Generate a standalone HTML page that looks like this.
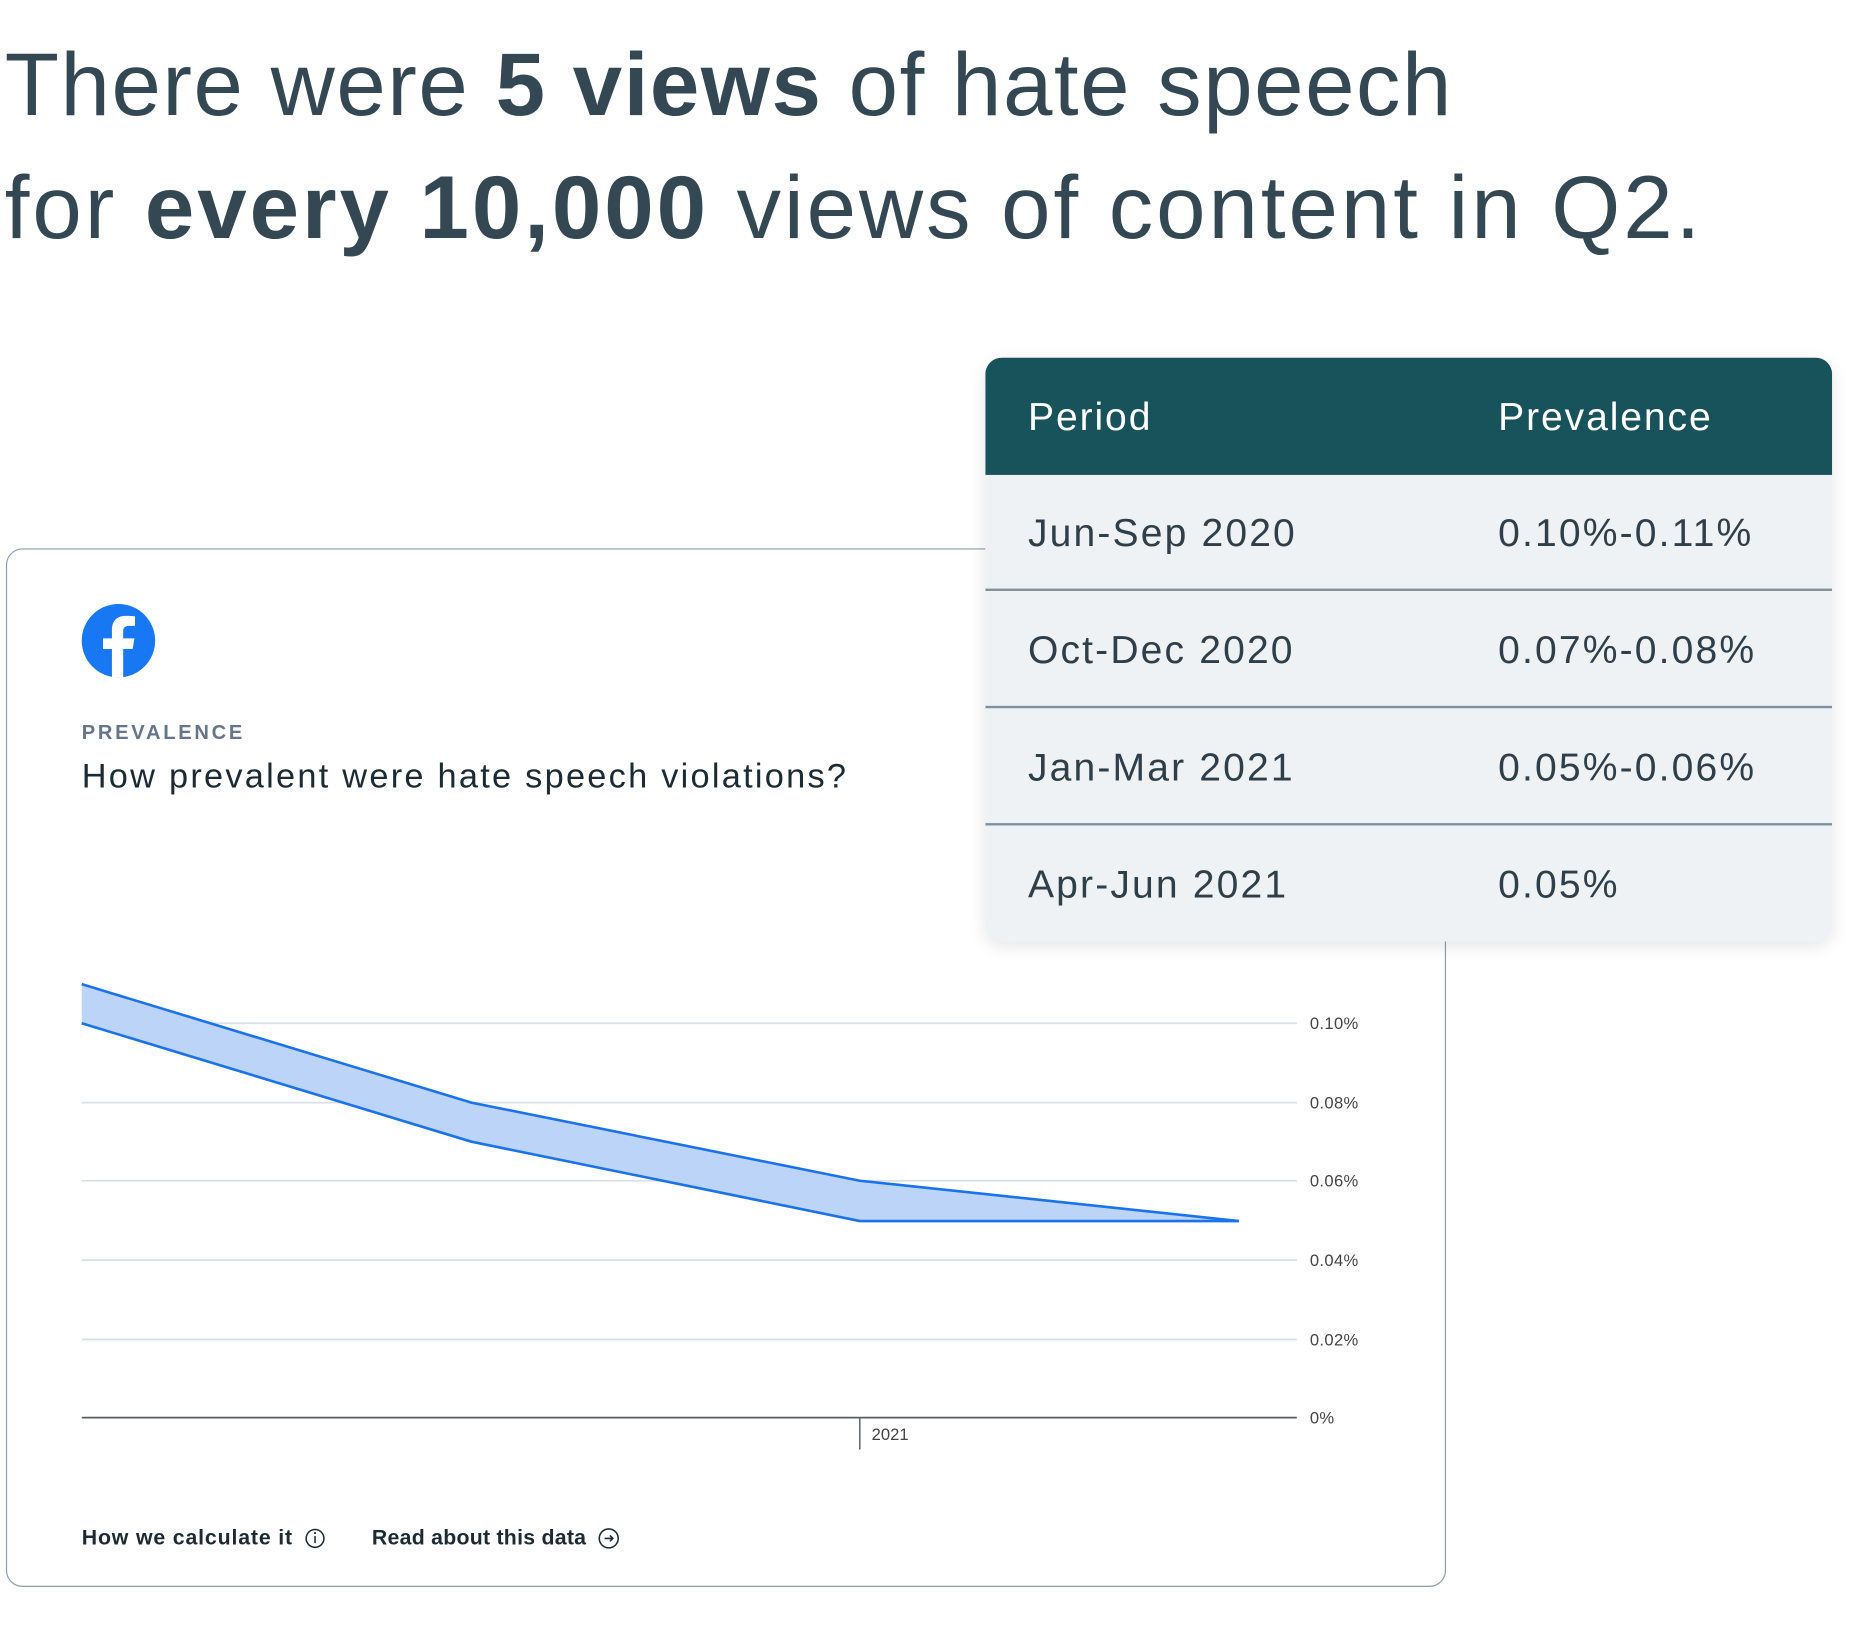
<!DOCTYPE html>
<html><head><meta charset="utf-8"><style>
html,body{margin:0;padding:0;background:#fff;overflow:hidden}
body{width:1857px;height:1637px;position:relative}
#s{position:absolute;left:0;top:0;width:1568px;height:1382px;transform:scale(1.18431);transform-origin:0 0;font-family:"Liberation Sans",sans-serif}
.h{position:absolute;left:4px;font-size:75px;color:#344854;white-space:nowrap}
.h b{font-weight:700}
.card{position:absolute;left:5px;top:463px;width:1214px;height:875px;border:1px solid #8d9cab;border-radius:14px;background:#fff}
.tbl{position:absolute;left:832px;top:302px;width:715px;height:493px;border-radius:14px;overflow:hidden;background:#eff2f5;box-shadow:0 4px 14px rgba(0,0,0,0.10)}
.hd{position:absolute;left:0;top:0;width:715px;height:99px;background:#18525a}
.t{position:absolute;font-size:33px;color:#2f3f4a;white-space:nowrap;line-height:40px;letter-spacing:1.8px}
.w{color:#fff;letter-spacing:1.6px}
.sep{position:absolute;left:0;width:715px;height:2px;background:#7f909c}
.lab{position:absolute;left:1106px;font-size:14px;color:#444;line-height:16px;letter-spacing:0.3px}
</style></head><body><div id="s">
<div class="h" style="top:28px;letter-spacing:1.3px">There were <b>5 views</b> of hate speech</div>
<div class="h" style="top:132px;letter-spacing:2.5px">for <b>every 10,000</b> views of content in Q2.</div>

<div class="card"></div>
<svg style="position:absolute;left:0;top:0" width="1568" height="1382">
<circle cx="100" cy="541" r="31" fill="#1877f2"/>
<path d="M104 572 V548 H112 L113.5 539 H104 V533 C104 530 105.5 528.5 109 528.5 H114 V520.5 C111 520 108 520 106 520 C98.5 520 94.5 524.5 94.5 532 V539 H87 V548 H94.5 V572 Z" fill="#fff"/>
<g stroke="#dcdfe3" stroke-width="1.5">
<line x1="69" y1="864" x2="1095" y2="864"/><line x1="69" y1="931" x2="1095" y2="931"/>
<line x1="69" y1="997" x2="1095" y2="997"/><line x1="69" y1="1064" x2="1095" y2="1064"/>
<line x1="69" y1="1131" x2="1095" y2="1131"/></g>
<polygon points="69,831 398,931 726,997 1046,1031 726,1031 398,964 69,864" fill="#bcd4f8"/>
<polyline points="69,831 398,931 726,997 1046,1031" fill="none" stroke="#1a73e8" stroke-width="2.2"/>
<polyline points="69,864 398,964 726,1031 1046,1031" fill="none" stroke="#1a73e8" stroke-width="2.2"/>
<line x1="69" y1="1197" x2="1095" y2="1197" stroke="#555d63" stroke-width="1.5"/>
<line x1="726" y1="1197" x2="726" y2="1224" stroke="#555d63" stroke-width="1.2"/>
<circle cx="266" cy="1299" r="7.5" fill="none" stroke="#1c2b33" stroke-width="1.3"/>
<line x1="266" y1="1297" x2="266" y2="1303" stroke="#1c2b33" stroke-width="1.3"/><circle cx="266" cy="1294.5" r="0.9" fill="#1c2b33"/>
<circle cx="514" cy="1299" r="8" fill="none" stroke="#1c2b33" stroke-width="1.3"/>
<path d="M510.5 1299 H517.5 M515 1296.5 L517.5 1299 L515 1301.5" fill="none" stroke="#1c2b33" stroke-width="1.3"/>
</svg>
<div style="position:absolute;left:69px;top:609px;font-size:17px;font-weight:700;letter-spacing:2.3px;color:#65758a">PREVALENCE</div>
<div style="position:absolute;left:69px;top:640px;font-size:29px;color:#1c2b33;letter-spacing:1.9px">How prevalent were hate speech violations?</div>
<div class="lab" style="top:856px">0.10%</div><div class="lab" style="top:923px">0.08%</div>
<div class="lab" style="top:989px">0.06%</div><div class="lab" style="top:1056px">0.04%</div>
<div class="lab" style="top:1123px">0.02%</div><div class="lab" style="top:1189px">0%</div>
<div style="position:absolute;left:736px;top:1203px;font-size:14px;color:#444">2021</div>
<div style="position:absolute;left:69px;top:1288px;font-size:18px;font-weight:700;color:#1c2b33;letter-spacing:0.7px">How we calculate it</div>
<div style="position:absolute;left:314px;top:1288px;font-size:18px;font-weight:700;color:#1c2b33;letter-spacing:0.2px">Read about this data</div>

<div class="tbl">
<div class="hd"></div>
<div class="t w" style="left:36px;top:30px">Period</div><div class="t w" style="left:433px;top:30px">Prevalence</div>
<div class="t" style="left:36px;top:128px">Jun-Sep 2020</div><div class="t" style="left:433px;top:128px">0.10%-0.11%</div>
<div class="sep" style="top:195px"></div>
<div class="t" style="left:36px;top:227px">Oct-Dec 2020</div><div class="t" style="left:433px;top:227px">0.07%-0.08%</div>
<div class="sep" style="top:294px"></div>
<div class="t" style="left:36px;top:326px">Jan-Mar 2021</div><div class="t" style="left:433px;top:326px">0.05%-0.06%</div>
<div class="sep" style="top:393px"></div>
<div class="t" style="left:36px;top:425px">Apr-Jun 2021</div><div class="t" style="left:433px;top:425px">0.05%</div>
</div>
</div></body></html>
